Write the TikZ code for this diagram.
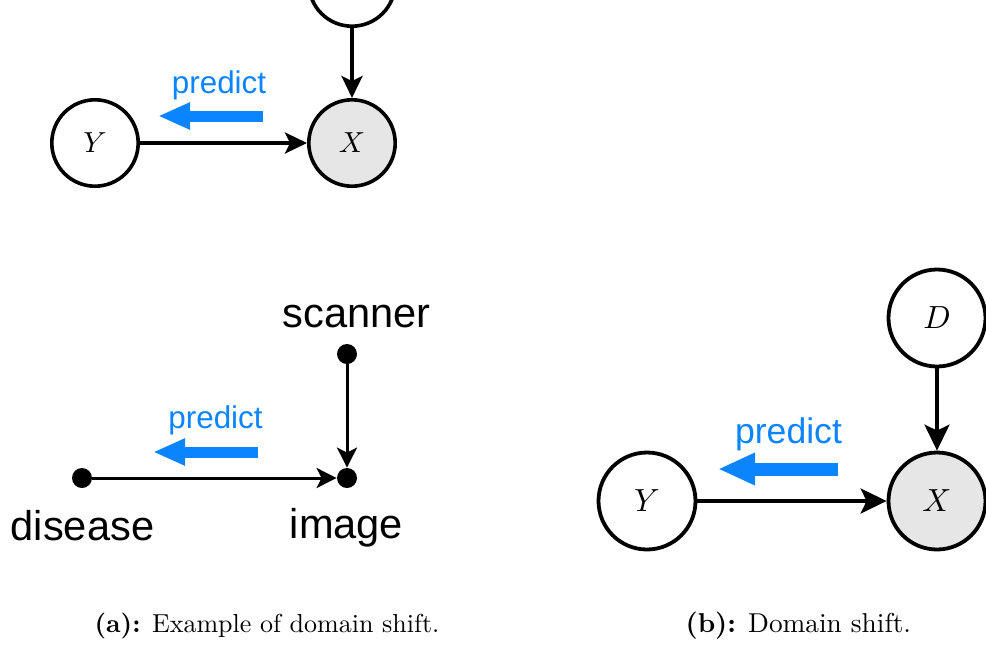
\documentclass[tikz,border=0pt]{standalone}
\usepackage{fontspec}
\newfontfamily\labelfont{Liberation Sans}
\usetikzlibrary{arrows.meta}
\definecolor{predblue}{RGB}{10,132,255}
\definecolor{obsgray}{RGB}{230,230,230}

\begin{document}
\begin{tikzpicture}[x=0.5pt,y=-0.5pt,
  var/.style={circle,draw,line width=1.8pt,minimum size=43.2pt,inner sep=0pt},
  bigvar/.style={var,line width=1.9pt,minimum size=48.5pt},
  obs/.style={fill=obsgray},
  dot/.style={circle,fill=black,minimum size=10pt,inner sep=0pt},
  edge/.style={line width=1.8pt,-{Stealth[length=11pt,width=10.5pt,inset=2.5pt]}},
  thinedge/.style={line width=1.5pt,-{Stealth[length=10pt,width=10pt,inset=2.5pt]}},
  bigedge/.style={line width=1.9pt,-{Stealth[length=13pt,width=12.5pt,inset=3pt]}},
  predarrow/.style={draw=predblue,line width=5.5pt,-{Triangle[length=16pt,width=12.5pt]}},
  bigpredarrow/.style={draw=predblue,line width=6.5pt,-{Triangle[length=18.5pt,width=15pt]}},
  predlabel/.style={text=predblue,anchor=base,inner sep=0pt,font=\labelfont\fontsize{15.7}{16}\selectfont},
  word/.style={anchor=base,inner sep=0pt,font=\labelfont\fontsize{20.8}{21}\selectfont},
  caption/.style={anchor=base west,inner sep=0pt,font=\normalsize,scale=1.3,transform shape}]

\clip (0,0) rectangle (986,644);

% ---- (a) top: generic graph, two causes of X
\node[var] (t1) at (352,-17) {};
\node[var] (y1) at (95,143) {\scalebox{1.45}{$Y$}};
\node[var,obs] (x1) at (352,143) {\scalebox{1.45}{$X$}};
\draw[edge] (t1) -- (x1);
\draw[edge] (y1) -- (x1);
\node[predlabel] (p1) at (219,93) {predict};
\coordinate (p1s) at (263,116);
\coordinate (p1e) at (158,116);
\draw[predarrow] (p1s) -- (p1e);

% ---- (a) bottom: medical imaging example
\node[dot] (scanner) at (347,354) {};
\node[dot] (image) at (347,478) {};
\node[dot] (disease) at (82,478) {};
\node[word] (lscanner) at (356.5,327) {scanner};
\node[word] (limage) at (346.5,538) {image};
\node[word] (ldisease) at (82.5,540) {disease};
\draw[thinedge] (scanner) -- (image);
\draw[thinedge] (disease) -- (image);
\node[predlabel] (p2) at (215.5,428) {predict};
\coordinate (p2s) at (258,452);
\coordinate (p2e) at (153,452);
\draw[predarrow] (p2s) -- (p2e);

% ---- (b) domain shift graph
\node[bigvar] (d) at (937,318) {\scalebox{1.6}{$D$}};
\node[bigvar] (y2) at (647,501) {\scalebox{1.6}{$Y$}};
\node[bigvar,obs] (x2) at (937,501) {\scalebox{1.6}{$X$}};
\draw[bigedge] (d) -- (x2);
\draw[bigedge] (y2) -- (x2);
\node[predlabel,font=\labelfont\fontsize{17.8}{18}\selectfont] (p3) at (788.5,443) {predict};
\coordinate (p3s) at (838,469);
\coordinate (p3e) at (718,469);
\draw[bigpredarrow] (p3s) -- (p3e);

% ---- captions
\node[caption] (capa) at (94,632) {\textbf{(a):} Example of domain shift.};
\node[caption,scale=1.05] (capb) at (685,632) {\textbf{(b):} Domain shift.};
\end{tikzpicture}
\end{document}
